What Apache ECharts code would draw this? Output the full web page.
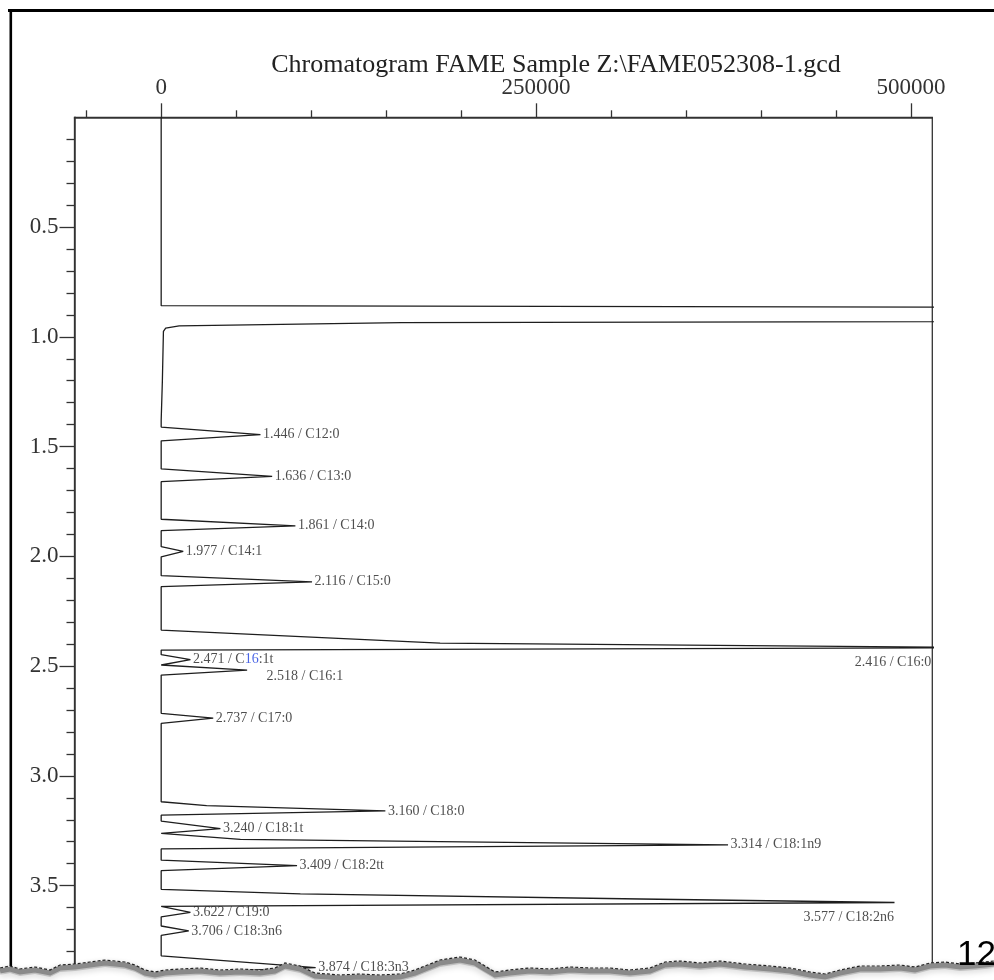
<!DOCTYPE html>
<html>
<head>
<meta charset="utf-8">
<title>Chromatogram FAME Sample</title>
<script src="https://cdn.jsdelivr.net/npm/echarts@6/dist/echarts.min.js"></script>
<style>
  html, body { margin: 0; padding: 0; background: #fff; }
  #chart { width: 994px; height: 980px; }
</style>
</head>
<body>
<div id="chart"></div>
<script>
// ---- Identified FAME peaks (retention time in min, detector signal) ----
const compounds      = ['C12:0', 'C13:0', 'C14:0', 'C14:1', 'C15:0', 'C16:0', 'C16:1t', 'C16:1', 'C17:0',
                        'C18:0', 'C18:1t', 'C18:1n9', 'C18:2tt', 'C18:2n6', 'C19:0', 'C18:3n6', 'C18:3n3'];
const retentionTimes = [1.446, 1.636, 1.861, 1.977, 2.116, 2.416, 2.471, 2.518, 2.737,
                        3.160, 3.240, 3.314, 3.409, 3.577, 3.622, 3.706, 3.874];
const peakHeights    = [66200, 74000, 89500, 14700, 100600, 560000, 19500, 57300, 34700,
                        149500, 39500, 378000, 90600, 489000, 19500, 18400, 103000];
const peakStarts     = [1.411, 1.602, 1.831, 1.956, 2.088, 2.336, 2.448, 2.495, 2.715,
                        3.118, 3.206, 3.270, 3.384, 3.517, 3.600, 3.684, 3.820];
const peakEnds       = [1.474, 1.660, 1.883, 2.002, 2.138, 2.427, 2.495, 2.541, 2.761,
                        3.179, 3.262, 3.333, 3.432, 3.595, 3.642, 3.727, 3.900];

// Leading-edge shoulders of the large peaks
const shoulderTimes   = [2.395, 3.136, 3.289, 3.300, 3.538, 3.561];
const shoulderSignals = [186000, 30300, 52800, 186000, 92800, 319500];

// Solvent front and baseline recovery
const solventTimes   = [0, 0.858, 0.866, 0.900, 0.935, 0.950, 0.960, 0.975, 1.20, 1.38];
const solventSignals = [0, 0, 600000, 3000000, 160000, 12000, 3000, 1500, 800, 0];
const runEndTime = 3.93;

// Axis ticks
const signalMajorTicks = [0, 250000, 500000];
const signalMinorTicks = [-50000, 50000, 100000, 150000, 200000, 300000, 350000, 400000, 450000];
const timeMajorTicks   = [0.5, 1.0, 1.5, 2.0, 2.5, 3.0, 3.5];

const X_MIN = -57800, X_MAX = 514200;
const Y_MIN = 0, Y_MAX = 3.93;

const timeMinorTicks = [];
for (let i = 1; i < 40; i++) {
  if (i % 5 !== 0) timeMinorTicks.push(+(i / 10).toFixed(1));
}

// ---- Build the detector trace ----
const tracePoints = [];
solventTimes.forEach((t, i) => tracePoints.push([solventSignals[i], t]));
compounds.forEach((c, i) => {
  tracePoints.push([0, peakStarts[i]]);
  tracePoints.push([peakHeights[i], retentionTimes[i]]);
  tracePoints.push([0, peakEnds[i]]);
});
shoulderTimes.forEach((t, i) => tracePoints.push([shoulderSignals[i], t]));
tracePoints.push([0, runEndTime]);
tracePoints.sort((a, b) => a[1] - b[1]);

// ---- Peak annotations ----
const serif = "'Liberation Serif', 'Times New Roman', serif";
const edgeLabelled = ['C16:0', 'C18:2n6'];
const labelData = compounds.map((c, i) => {
  const rt = retentionTimes[i];
  const text = rt.toFixed(3) + ' / ' + c;
  if (edgeLabelled.includes(c)) {
    return {
      value: [Math.min(peakHeights[i], X_MAX - 300), rt],
      label: { position: 'left', distance: 0, offset: [0, 15], formatter: text }
    };
  }
  if (c === 'C16:1t') {
    return {
      value: [peakHeights[i], rt],
      label: { formatter: '{t|' + rt.toFixed(3) + ' / C}{b|16}{t|:1t}' }
    };
  }
  if (c === 'C16:1') {
    return { value: [peakHeights[i], rt], label: { offset: [17, 6], formatter: text } };
  }
  return { value: [peakHeights[i], rt], label: { formatter: text } };
});

// ---- Torn page edge along the bottom ----
const tornEdge = [
  [0,968],[10,966],[20,969],[35,967],[50,970],[60,965],[75,964],[90,962],[105,960],[115,961],
  [125,962],[135,965],[145,970],[155,972],[165,970],[180,969],[200,968],[220,970],[240,969],
  [260,970],[275,968],[285,963],[300,966],[315,973],[340,975],[360,974],[380,975],[400,974],
  [415,970],[440,960],[460,957],[475,960],[485,966],[495,972],[510,970],[530,968],[550,969],
  [570,967],[590,968],[610,968],[630,970],[650,968],[665,962],[680,961],[700,963],[720,961],
  [745,964],[770,966],[790,968],[810,972],[825,974],[840,970],[860,966],[880,966],[900,965],
  [915,967],[930,963],[945,962],[960,964],[975,963],[994,961]
];
const underPage = tornEdge.concat([[994, 980], [0, 980]]);

const chart = echarts.init(document.getElementById('chart'), null, { renderer: 'canvas' });

const axisColor = '#333';

chart.setOption({
  backgroundColor: '#fff',
  animation: false,
  title: {
    text: 'Chromatogram FAME Sample Z:\\FAME052308-1.gcd',
    left: 551,
    top: 47,
    textAlign: 'center',
    textStyle: { fontFamily: serif, fontSize: 26, fontWeight: 'normal', color: '#222' }
  },
  grid: {
    left: 74.5, top: 117.3, width: 857.8, height: 862.7,
    show: true, borderColor: axisColor, borderWidth: 1.3, backgroundColor: 'transparent'
  },
  xAxis: [
    {
      type: 'value', position: 'top', min: X_MIN, max: X_MAX,
      axisLine: { show: true, onZero: false, lineStyle: { color: axisColor, width: 1.5 } },
      axisTick: { show: true, customValues: signalMajorTicks, length: 14, lineStyle: { color: axisColor, width: 1.3 } },
      axisLabel: {
        show: true, customValues: signalMajorTicks, margin: 18,
        fontFamily: serif, fontSize: 23, color: '#333',
        formatter: v => String(v)
      },
      splitLine: { show: false }
    },
    {
      type: 'value', position: 'top', min: X_MIN, max: X_MAX,
      axisLine: { show: false, onZero: false },
      axisTick: { show: true, customValues: signalMinorTicks, length: 7, lineStyle: { color: axisColor, width: 1.3 } },
      axisLabel: { show: false },
      splitLine: { show: false }
    }
  ],
  yAxis: [
    {
      type: 'value', position: 'left', inverse: true, min: Y_MIN, max: Y_MAX,
      axisLine: { show: true, onZero: false, lineStyle: { color: axisColor, width: 1.5 } },
      axisTick: { show: true, customValues: timeMajorTicks, length: 15, lineStyle: { color: axisColor, width: 1.3 } },
      axisLabel: {
        show: true, customValues: timeMajorTicks, margin: 16,
        fontFamily: serif, fontSize: 23, color: '#333',
        formatter: v => v.toFixed(1)
      },
      splitLine: { show: false }
    },
    {
      type: 'value', position: 'left', inverse: true, min: Y_MIN, max: Y_MAX,
      axisLine: { show: false, onZero: false },
      axisTick: { show: true, customValues: timeMinorTicks, length: 8, lineStyle: { color: axisColor, width: 1.3 } },
      axisLabel: { show: false },
      splitLine: { show: false }
    }
  ],
  series: [
    {
      name: 'FID signal',
      type: 'line',
      xAxisIndex: 0, yAxisIndex: 0,
      data: tracePoints,
      showSymbol: false,
      symbol: 'none',
      clip: true,
      lineStyle: { color: '#1e1e1e', width: 1.3 },
      z: 3
    },
    {
      name: 'Peak labels',
      type: 'scatter',
      xAxisIndex: 0, yAxisIndex: 0,
      data: labelData,
      symbolSize: 1,
      itemStyle: { color: 'rgba(0,0,0,0)' },
      clip: false,
      label: {
        show: true, position: 'right', distance: 2,
        fontFamily: serif, fontSize: 14, color: '#222',
        rich: {
          t: { fontFamily: serif, fontSize: 14, color: '#222' },
          b: { fontFamily: serif, fontSize: 14, color: '#1d3ee0' }
        }
      },
      z: 4
    }
  ],
  graphic: [
    // page frame
    { type: 'line', z: 100, shape: { x1: 8, y1: 10.5, x2: 994, y2: 10.5 },
      style: { stroke: '#000', lineWidth: 3 } },
    { type: 'line', z: 100, shape: { x1: 10.8, y1: 9, x2: 10.8, y2: 980 },
      style: { stroke: '#000', lineWidth: 2.6 } },
    // page underneath the torn edge
    { type: 'polygon', z: 101, shape: { points: underPage },
      style: { fill: '#fff' } },
    { type: 'polyline', z: 102, shape: { points: tornEdge.map(p => [p[0], p[1] + 3]) },
      style: { stroke: '#8a8a8a', lineWidth: 5, shadowBlur: 6, shadowColor: 'rgba(0,0,0,0.45)', shadowOffsetY: 3 } },
    { type: 'polygon', z: 103, shape: { points: underPage.map(p => [p[0], p[1] + 7]) },
      style: { fill: '#fff', opacity: 0.6 } },
    { type: 'polyline', z: 104, shape: { points: tornEdge },
      style: { stroke: '#222', lineWidth: 1.2, lineDash: [3, 2] } },
    // page number
    { type: 'text', z: 105, x: 957, y: 938,
      style: { text: '12', font: "35px 'Liberation Sans', Arial, sans-serif", fill: '#000' } }
  ]
});
</script>
</body>
</html>
